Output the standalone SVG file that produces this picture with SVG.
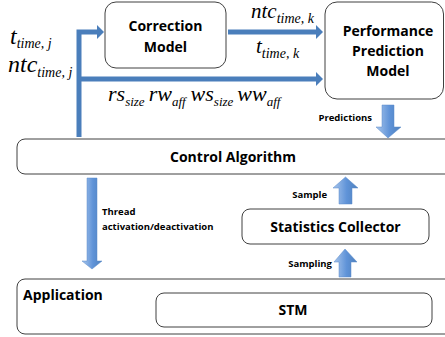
<svg xmlns="http://www.w3.org/2000/svg" width="445" height="337" viewBox="0 0 445 337">
  <style>
    .box { fill: #ffffff; stroke: #404040; stroke-width: 1; }
    .lbl { font-family: "Open Sans", "Liberation Sans", sans-serif; font-weight: 700; fill: #000; }
    .big { font-size: 14px; }
    .small { font-size: 9.5px; }
    .math { font-family: "Liberation Serif", "DejaVu Serif", serif; font-style: italic; fill: #000; }
    .line { stroke: #4a7ebb; stroke-width: 5; fill: none; }
    .block { fill: url(#blueGrad); stroke: #5a8ac8; stroke-width: 0.5; }
  </style>
  <defs>
    <linearGradient id="blueGrad" x1="0" y1="0" x2="1" y2="0">
      <stop offset="0" stop-color="#a9c6ec"/>
      <stop offset="0.55" stop-color="#5f93d8"/>
      <stop offset="1" stop-color="#4f81bd"/>
    </linearGradient>
    <marker id="head" markerUnits="userSpaceOnUse" markerWidth="8" markerHeight="14" refX="0" refY="7" orient="auto">
      <path d="M0,0 L7,7 L0,14 Z" fill="#4a7ebb"/>
    </marker>
  </defs>

  <!-- nodes -->
  <g id="correction-model">
    <rect class="box" x="105" y="2" width="121" height="66" rx="11"/>
    <text class="lbl big" x="165.5" y="31" text-anchor="middle">Correction</text>
    <text class="lbl big" x="165.5" y="52" text-anchor="middle">Model</text>
  </g>

  <g id="performance-prediction-model">
    <rect class="box" x="325" y="2" width="118.5" height="97" rx="12"/>
    <text class="lbl big" x="388" y="36" text-anchor="middle">Performance</text>
    <text class="lbl big" x="388" y="56" text-anchor="middle">Prediction</text>
    <text class="lbl big" x="388" y="76" text-anchor="middle">Model</text>
  </g>

  <g id="control-algorithm">
    <rect class="box" x="17" y="139" width="440" height="35" rx="8"/>
    <text class="lbl big" x="233" y="162" text-anchor="middle">Control Algorithm</text>
  </g>

  <g id="statistics-collector">
    <rect class="box" x="242" y="209" width="187" height="35" rx="8"/>
    <text class="lbl big" x="335.5" y="232" text-anchor="middle">Statistics Collector</text>
  </g>

  <g id="application">
    <rect class="box" x="17" y="279" width="440" height="55" rx="8"/>
    <text class="lbl big" x="23" y="300">Application</text>
  </g>

  <g id="stm">
    <rect class="box" x="156" y="293" width="276" height="34" rx="8"/>
    <text class="lbl big" x="293" y="315" text-anchor="middle">STM</text>
  </g>

  <!-- connectors -->
  <g id="connectors">
    <!-- inputs from control algorithm to both models -->
    <path class="line" d="M79,137 V32 H97" marker-end="url(#head)"/>
    <path class="line" d="M79,79 H316" marker-end="url(#head)"/>
    <!-- correction model to prediction model -->
    <path class="line" d="M228,32 H316" marker-end="url(#head)"/>

    <!-- block arrows -->
    <polygon class="block" points="382,105 394,105 394,127 401,127 388,138 376,127 382,127"/>
    <polygon class="block" points="87,178 97,178 97,261 102,261 92,269 82,261 87,261"/>
    <polygon class="block" points="339,204 352,204 352,188 358,188 345.5,177 333,188 339,188"/>
    <polygon class="block" points="339,277 351,277 351,262 357,262 345,249 334,262 339,262"/>

    <!-- connector labels -->
    <text class="lbl small" x="372" y="121" text-anchor="end">Predictions</text>
    <text class="lbl small" x="327" y="198" text-anchor="end">Sample</text>
    <text class="lbl small" x="332" y="267" text-anchor="end">Sampling</text>
    <text class="lbl small" x="102" y="215">Thread</text>
    <text class="lbl small" x="102" y="230">activation/deactivation</text>

    <!-- variable labels -->
    <text class="math" x="10" y="44" font-size="24">t<tspan font-size="14" dy="4">time, j</tspan></text>
    <text class="math" x="8" y="72" font-size="24">ntc<tspan font-size="14" dy="5">time, j</tspan></text>
    <text class="math" x="251" y="18" font-size="21">ntc<tspan font-size="14" dy="5">time, k</tspan></text>
    <text class="math" x="256" y="53" font-size="21">t<tspan font-size="14" dy="5">time, k</tspan></text>
    <text class="math" x="108" y="101" font-size="22">rs<tspan font-size="13" dy="5">size</tspan><tspan dy="-5" dx="4">rw</tspan><tspan font-size="13" dy="5">aff</tspan><tspan dy="-5" dx="5">ws</tspan><tspan font-size="13" dy="5">size</tspan><tspan dy="-5" dx="4">ww</tspan><tspan font-size="13" dy="5">aff</tspan></text>
  </g>
</svg>
